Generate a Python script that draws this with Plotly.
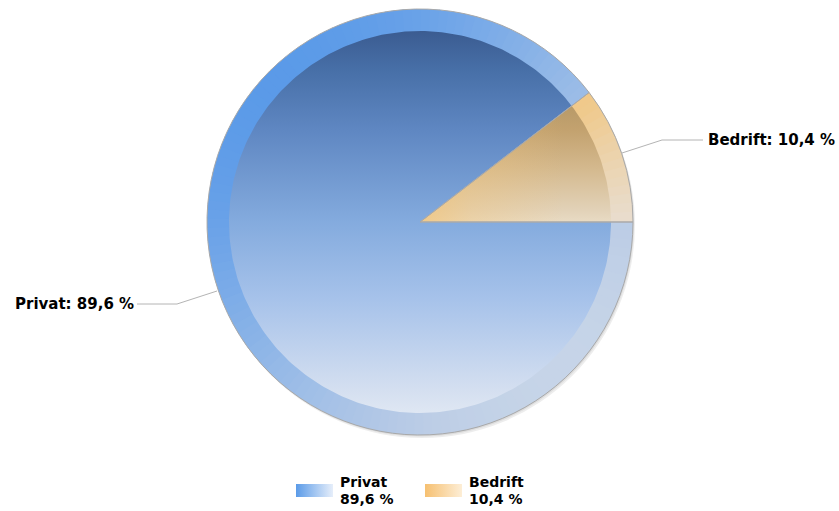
import math
import plotly.graph_objects as go

# ---- data ----
labels = ["Privat", "Bedrift"]
values = [89.6, 10.4]

# ---- styling ----
W, H = 839, 511
CX, CY, R, RI = 420, 222, 213, 191
FONT = "DejaVu Sans"

inner_scales = {
    "Privat": [[0, "#3b5c91"], [0.1, "#476fa7"], [0.26, "#5f87c2"], [0.5, "#84abde"],
               [0.7, "#a6c2ea"], [0.94, "#d4dff0"], [1, "#dfe7f3"]],
    "Bedrift": [[0, "#a88a58"], [0.196, "#b89a68"], [0.26, "#c3a26f"], [0.36, "#d4b98e"],
                [0.47, "#e2d2b8"], [0.5, "#e8dbc4"], [1, "#f0ece6"]],
}
# warm glow near the centre of each slice (horizontal, fades outward)
glow_scales = {
    "Privat": None,
    "Bedrift": [[0, "rgba(242,196,120,0.75)"], [0.35, "rgba(242,196,120,0.35)"],
                [1, "rgba(242,196,120,0)"]],
}
ring_scales = {
    "Privat": [[0, "#5899e8"], [0.15, "#68a1e8"], [0.5, "#95b9e7"], [0.85, "#bccde6"], [1, "#c8d6e8"]],
    "Bedrift": [[0, "#f8bf6c"], [0.5, "#f1c684"], [0.6, "#efca8e"], [0.85, "#e8ded2"], [1, "#e6e2dc"]],
}
legend_scales = {
    "Privat": [[0, "#5b9be8"], [1, "#e6eefa"]],
    "Bedrift": [[0, "#f6c071"], [1, "#fdeed6"]],
}


def hex2rgb(h):
    h = h.lstrip("#")
    return [int(h[i:i + 2], 16) for i in (0, 2, 4)]


def interp(scale, t):
    t = max(0.0, min(1.0, t))
    for (t0, c0), (t1, c1) in zip(scale[:-1], scale[1:]):
        if t0 <= t <= t1:
            f = 0 if t1 == t0 else (t - t0) / (t1 - t0)
            a, b = hex2rgb(c0), hex2rgb(c1)
            return "rgb(%d,%d,%d)" % tuple(round(a[i] + (b[i] - a[i]) * f) for i in range(3))
    return scale[-1][1]


def pt(a_deg, r):
    a = math.radians(a_deg)
    return CX + r * math.sin(a), CY - r * math.cos(a)


def fmt(v):
    return f"{v:.1f}".replace(".", ",")


fig = go.Figure()
shapes = []

# soft shadow
for dx, dy, al in [(2, 3, 0.07), (1, 1.5, 0.07)]:
    shapes.append(dict(type="circle", xref="x", yref="y", layer="below",
                       x0=CX - R + dx, x1=CX + R + dx, y0=CY - R + dy, y1=CY + R + dy,
                       fillcolor=f"rgba(0,0,0,{al})", line=dict(width=0)))

# slice angles (clockwise from 12 o'clock, first slice starting at 3 o'clock)
total = sum(values)
spans = []
a = 90.0
for v in values:
    s = v / total * 360.0
    spans.append((a, a + s))
    a += s

for lab, (a0, a1) in zip(labels, spans):
    # ring segments with diagonal shading
    nseg = max(2, int(math.ceil((a1 - a0) / 2.5)))
    for k in range(nseg):
        s0 = a0 + (a1 - a0) * k / nseg
        s1 = a0 + (a1 - a0) * (k + 1) / nseg
        e0 = s0 - (0.25 if k > 0 else 0)
        e1 = s1 + (0.25 if k < nseg - 1 else 0)
        pts = [pt(e0 + (e1 - e0) * j / 4, R) for j in range(5)]
        pts += [pt(e1 - (e1 - e0) * j / 4, RI - 1) for j in range(5)]
        path = "M " + " L ".join(f"{x:.2f},{y:.2f}" for x, y in pts) + " Z"
        mx, my = pt((s0 + s1) / 2, (R + RI) / 2)
        t = ((mx - CX) + (my - CY)) / (math.sqrt(2) * R) * 0.5 + 0.5
        shapes.append(dict(type="path", xref="x", yref="y", layer="below", path=path,
                           fillcolor=interp(ring_scales[lab], t), line=dict(width=0)))

    # inner disc part with vertical gradient
    n = max(4, int((a1 - a0) / 1.0))
    xs, ys = [CX], [CY]
    for j in range(n + 1):
        x, y = pt(a0 + (a1 - a0) * j / n, RI)
        xs.append(x)
        ys.append(y)
    xs.append(CX)
    ys.append(CY)
    fig.add_trace(go.Scatter(
        x=xs, y=ys, mode="lines", fill="toself", line=dict(width=0),
        fillgradient=dict(type="vertical", colorscale=inner_scales[lab],
                          start=CY - RI, stop=CY + RI),
        hoverinfo="skip", showlegend=False))
    if glow_scales[lab]:
        fig.add_trace(go.Scatter(
            x=xs, y=ys, mode="lines", fill="toself", line=dict(width=0),
            fillgradient=dict(type="horizontal", colorscale=glow_scales[lab],
                              start=CX, stop=CX + RI * 0.75),
            hoverinfo="skip", showlegend=False))

# the pie itself (outline + hover), aligned on the drawn slices
fig.add_trace(go.Pie(
    labels=labels, values=values, sort=False, direction="clockwise", rotation=90,
    marker=dict(colors=["rgba(0,0,0,0)", "rgba(0,0,0,0)"],
                line=dict(color="#a9a9a9", width=1)),
    textinfo="none", showlegend=False,
    hovertemplate="%{label}: %{value} %<extra></extra>",
    domain=dict(x=[(CX - R) / W, (CX + R) / W], y=[1 - (CY + R) / H, 1 - (CY - R) / H]),
))

# leader lines + labels
leaders = {
    "Privat": dict(line=[(137, 304), (177, 304), (217, 291)], pos=(13, 304)),
    "Bedrift": dict(line=[(622, 153), (662, 140), (703, 140)], pos=(706, 140)),
}
annotations = []
for lab, v in zip(labels, values):
    ld = leaders[lab]
    fig.add_trace(go.Scatter(x=[p[0] for p in ld["line"]], y=[p[1] for p in ld["line"]],
                             mode="lines", line=dict(color="#b4b4b4", width=1),
                             hoverinfo="skip", showlegend=False))
    annotations.append(dict(x=ld["pos"][0], y=ld["pos"][1], xref="x", yref="y",
                            xanchor="left", yanchor="middle", showarrow=False,
                            text=f"<b>{lab}: {fmt(v)} %</b>",
                            font=dict(family=FONT, size=15, color="#000000")))

# custom legend
legend_pos = {"Privat": 296, "Bedrift": 425}
for lab, v in zip(labels, values):
    x0 = legend_pos[lab]
    fig.add_trace(go.Scatter(
        x=[x0, x0 + 37, x0 + 37, x0, x0], y=[484, 484, 497, 497, 484],
        mode="lines", fill="toself", line=dict(width=0),
        fillgradient=dict(type="horizontal", colorscale=legend_scales[lab],
                          start=x0, stop=x0 + 37),
        hoverinfo="skip", showlegend=False))
    annotations.append(dict(x=x0 + 42, y=482, xref="x", yref="y", xanchor="left",
                            yanchor="middle", showarrow=False, text=f"<b>{lab}</b>",
                            font=dict(family=FONT, size=14, color="#000000")))
    annotations.append(dict(x=x0 + 42, y=499, xref="x", yref="y", xanchor="left",
                            yanchor="middle", showarrow=False, text=f"<b>{fmt(v)} %</b>",
                            font=dict(family=FONT, size=14, color="#000000")))

fig.update_layout(
    width=W, height=H, margin=dict(l=0, r=0, t=0, b=0),
    paper_bgcolor="white", plot_bgcolor="white",
    xaxis=dict(range=[0, W], visible=False, fixedrange=True),
    yaxis=dict(range=[H, 0], visible=False, fixedrange=True),
    shapes=shapes, annotations=annotations, showlegend=False,
)

fig.write_html("out.html")
